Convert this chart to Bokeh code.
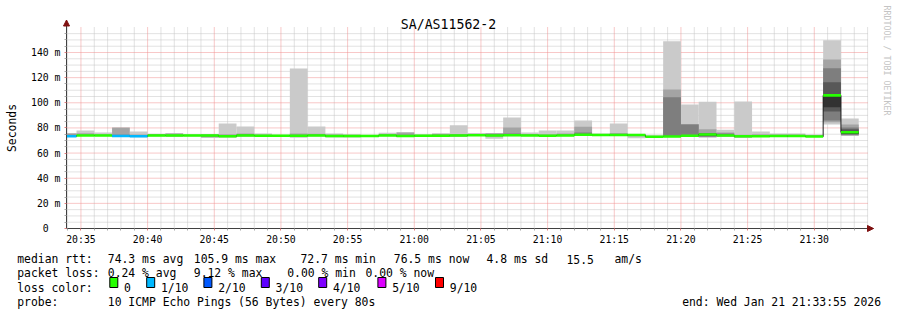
import math
from bokeh.plotting import figure
from bokeh.models import Range1d, FixedTicker, Label, BoxAnnotation, Arrow, NormalHead
from bokeh.embed import file_html
from bokeh.resources import INLINE

# ---------------- data ----------------
TITLE = "SA/AS11562-2"
Y_LABEL = "Seconds"
WATERMARK = "RRDTOOL / TOBI OETIKER"
graph_start = "20:33:55"
graph_end = "21:33:55"

bar_start = ["20:33:20", "20:34:40", "20:36:00", "20:37:20", "20:38:40", "20:40:00",
             "20:41:20", "20:42:40", "20:44:00", "20:45:20", "20:46:40", "20:48:00",
             "20:49:20", "20:50:40", "20:52:00", "20:53:20", "20:54:40", "20:56:00",
             "20:57:20", "20:58:40", "21:00:00", "21:01:20", "21:02:40", "21:04:00",
             "21:05:20", "21:06:40", "21:08:00", "21:09:20", "21:10:40", "21:12:00",
             "21:13:20", "21:14:40", "21:16:00", "21:17:20", "21:18:40", "21:20:00",
             "21:21:20", "21:22:40", "21:24:00", "21:25:20", "21:26:40", "21:28:00",
             "21:29:20", "21:30:40", "21:32:00"]
bar_last_end = "21:33:20"
nan = float("nan")

# sorted ping round-trip times per step (ms), ping01 fastest ... ping10 slowest
ping01 = [72.8, 73.5, 73.4, 72.8, 72.5, 73.2, 72.8, 73.2, 72.0, 72.3, 73.0, 73.0, 73.0, 72.2, 73.2,
          72.3, 72.5, 73.0, 73.3, 72.8, 73.0, 73.0, 72.8, 73.5, 71.4, 73.3, 73.3, 73.0, 73.3, 73.5,
          73.5, 73.5, 71.8, 72.3, 72.5, 73.0, 72.4, 72.8, 72.0, 72.8, 73.0, 73.0, 72.8, 82.7, 73.5]
ping02 = [73.0, 73.7, 73.6, 73.0, 72.8, 73.5, 73.3, 73.5, 72.5, 72.6, 73.3, 73.3, 73.3, 72.8, 73.5,
          72.7, 72.6, 73.2, 73.5, 73.0, 73.2, 73.2, 73.2, 73.7, 73.0, 73.6, 73.5, 73.3, 73.5, 73.8,
          73.7, 73.7, 73.3, 72.5, 72.8, 73.2, 72.6, 73.2, 72.4, 73.0, 73.1, 73.1, 72.9, 84.5, 74.0]
ping03 = [73.2, 73.8, 73.8, 73.2, 73.0, 73.7, 73.6, 73.7, 73.2, 73.0, 73.6, 73.5, 73.5, 73.2, 73.7,
          73.0, 72.7, 73.3, 73.7, 73.2, 73.4, 73.4, 73.5, 73.9, 73.5, 73.8, 73.7, 73.5, 73.7, 74.0,
          73.9, 73.9, 73.7, 72.7, 73.0, 73.4, 73.0, 73.6, 72.8, 73.1, 73.2, 73.2, 73.0, 86.0, 74.5]
ping04 = [73.3, 73.9, 73.9, 73.4, 73.2, 73.8, 73.8, 73.8, 73.6, 73.2, 73.8, 73.6, 73.6, 73.5, 73.8,
          73.3, 72.8, 73.4, 73.8, 73.3, 73.6, 73.6, 73.7, 74.0, 73.7, 74.0, 73.8, 73.6, 73.8, 74.3,
          74.0, 74.0, 74.0, 72.8, 73.2, 73.5, 73.5, 73.8, 73.0, 73.2, 73.3, 73.3, 73.1, 93.0, 75.0]
ping05 = [73.3, 74.0, 74.0, 73.5, 73.3, 74.0, 73.9, 73.9, 73.9, 73.3, 73.9, 73.7, 73.7, 73.7, 73.9,
          73.4, 72.9, 73.5, 73.9, 73.4, 73.7, 73.7, 73.9, 74.1, 73.9, 74.1, 73.9, 73.7, 73.9, 74.5,
          74.2, 74.2, 74.2, 72.9, 73.2, 73.6, 74.2, 74.0, 73.1, 73.3, 73.4, 73.4, 73.2, 96.5, 75.3]
ping06 = [73.4, 74.0, 74.1, 73.6, 73.4, 74.1, 74.0, 74.1, 74.1, 73.4, 74.1, 73.9, 73.9, 73.9, 74.1,
          73.6, 74.0, 73.6, 74.1, 73.6, 73.9, 73.9, 74.1, 74.3, 74.1, 74.3, 74.1, 73.9, 74.1, 74.7,
          74.4, 74.4, 74.4, 73.1, 73.3, 73.8, 75.2, 74.2, 73.3, 73.4, 73.6, 73.6, 73.3, 106.4, 77.0]
ping07 = [73.6, 74.2, 74.2, 73.8, 73.6, 74.3, 74.2, 74.2, 74.3, 73.6, 74.4, 74.0, 74.0, 74.2, 74.3,
          73.8, 74.2, 73.7, 74.3, 73.8, 74.0, 74.1, 74.3, 74.5, 74.4, 74.6, 74.3, 74.1, 74.3, 75.2,
          74.6, 74.6, 74.5, 73.3, 73.5, 74.2, 75.6, 74.6, 73.6, 73.6, 73.8, 73.8, 73.5, 116.4, 79.0]
ping08 = [74.5, 74.6, 74.4, 74.5, 74.0, 74.6, 74.5, 74.4, 74.5, 74.0, 75.0, 74.3, 74.2, 74.6, 74.8,
          74.2, 74.4, 73.8, 74.6, 74.5, 74.2, 74.5, 74.6, 74.8, 74.9, 75.5, 74.6, 74.4, 74.8, 76.4,
          74.9, 75.0, 74.6, 73.5, 104.5, 82.7, 75.8, 75.5, 74.0, 74.0, 74.2, 74.2, 73.8, 127.5, 80.3]
ping09 = [75.8, 75.8, 75.0, 80.3, 74.8, 75.0, 75.5, 74.6, 74.7, 75.0, 75.6, 74.8, 74.3, 75.5, 75.3,
          74.8, 74.6, 73.9, 75.2, 76.3, 74.5, 75.3, 75.2, 75.3, 75.8, 80.3, 75.2, 75.0, 75.5, 81.0,
          75.2, 76.0, 74.7, 73.7, 110.6, 83.2, 79.0, 76.4, 74.6, 75.0, 74.8, 74.8, 74.2, 134.4, 82.7]
ping10 = [nan, 78.0, 76.4, nan, 77.2, 75.4, 75.7, 74.9, 75.0, 83.5, 81.1, 75.6, 74.6, 127.3, 81.1,
          75.6, 74.8, 74.0, 76.1, 76.5, 74.8, 75.6, 82.2, 75.8, 76.0, 88.3, 76.4, 78.0, 78.0, 86.0,
          75.6, 83.5, 74.9, 74.0, 149.0, 98.6, 100.8, 78.5, 101.0, 77.2, 75.6, 75.6, 74.8, 149.8, 87.5]

median_ms = [73.3, 74.0, 74.0, 73.5, 73.3, 74.0, 74.0, 74.0, 74.0, 73.3,
             74.0, 73.8, 73.8, 73.8, 74.0, 73.5, 73.6, 73.5, 74.0, 73.5,
             73.8, 73.8, 74.0, 74.2, 74.0, 74.2, 74.0, 73.8, 74.0, 74.6,
             74.3, 74.3, 74.3, 73.0, 73.2, 73.7, 74.8, 74.0, 73.3, 73.3,
             73.5, 73.5, 73.2, 105.9, 76.5]
lost_of_10 = [1, 0, 0, 1, 1, 0, 0, 0, 0, 0, 0, 0, 0, 0, 0, 0, 0, 0, 0, 0, 0, 0, 0,
              0, 0, 0, 0, 0, 0, 0, 0, 0, 0, 0, 0, 0, 0, 0, 0, 0, 0, 0, 0, 0, 0]

x_tick_labels = ["20:35", "20:40", "20:45", "20:50", "20:55", "21:00",
                 "21:05", "21:10", "21:15", "21:20", "21:25", "21:30"]
y_tick_values = [0, 20, 40, 60, 80, 100, 120, 140]
y_tick_labels = ["0\u00a0\u00a0", "20 m", "40 m", "60 m", "80 m", "100 m", "120 m", "140 m"]
y_grid_top = 155

loss_keys = [0, 1, 2, 3, 4, 5, 9]
loss_key_labels = ["0", "1/10", "2/10", "3/10", "4/10", "5/10", "9/10"]
loss_key_colors = ["#26ff00", "#00b8ff", "#0059ff", "#5e00ff", "#7e00ff", "#dd00ff", "#ff0000"]

legend_rtt = ["median rtt:", "74.3 ms avg", "105.9 ms max", "72.7 ms min",
              "76.5 ms now", "4.8 ms sd", "15.5", "am/s"]
legend_loss = ["packet loss:", "0.24 % avg", "9.12 % max", "0.00 % min", "0.00 % now"]
legend_color_title = "loss color:"
legend_probe = ["probe:", "10 ICMP Echo Pings (56 Bytes) every 80s"]
legend_end = "end: Wed Jan 21 21:33:55 2026"

# ---------------- layout (pixels) ----------------
W, H = 897, 310
AX_X, AX_Y = 66, 228          # canvas position of the axes origin
SEC_PER_PX = 4.5
PX_PER_MS = 1.2571

MONO = "DejaVu Sans Mono"
AXIS_C = "#404040"
ARROW_C = "#7f1010"
MINOR_C = "#c4c4c4"
MAJOR_C = "#f09090"


def to_s(hms):
    h, m, s = (int(v) for v in hms.split(":"))
    return h * 3600 + m * 60 + s - (20 * 3600 + 35 * 60)


g0, g1 = to_s(graph_start), to_s(graph_end)
X0 = g0 - AX_X * SEC_PER_PX
X1 = X0 + W * SEC_PER_PX
Y0 = -(H - AX_Y) / PX_PER_MS
Y1 = AX_Y / PX_PER_MS


def px2x(px):
    return X0 + px * SEC_PER_PX


def py2y(py):
    return (AX_Y - py) / PX_PER_MS


p = figure(width=W, height=H, output_backend="svg", toolbar_location=None,
           x_range=Range1d(X0, X1), y_range=Range1d(Y0, Y1),
           min_border=0, min_border_left=0, min_border_right=0,
           min_border_top=0, min_border_bottom=0,
           background_fill_color="white", border_fill_color="white",
           outline_line_color=None)
p.xgrid.visible = False
p.ygrid.visible = False

# ---- grid (drawn under the data) ----
x_major = [to_s(t + ":00") for t in x_tick_labels]
x_minor = [m for m in range(-60, 3541, 60) if m not in x_major]
y_minor = [v for v in range(5, y_grid_top + 1, 5) if v not in y_tick_values]
grid_top = py2y(26)
grid_right = px2x(868)

p.segment(x0=x_minor, x1=x_minor, y0=[0] * len(x_minor), y1=[grid_top] * len(x_minor),
          line_color=MINOR_C, line_dash="1 1", line_width=1)
p.segment(x0=[g0] * len(y_minor), x1=[grid_right] * len(y_minor), y0=y_minor, y1=y_minor,
          line_color=MINOR_C, line_dash="1 1", line_width=1)
p.segment(x0=x_major, x1=x_major, y0=[0] * len(x_major), y1=[grid_top] * len(x_major),
          line_color=MAJOR_C, line_dash="1 1", line_width=1)
yM = y_tick_values[1:]
p.segment(x0=[g0] * len(yM), x1=[grid_right] * len(yM), y0=yM, y1=yM,
          line_color=MAJOR_C, line_dash="1 1", line_width=1)

# ---- smoke ----
starts = [to_s(t) for t in bar_start]
ends = starts[1:] + [to_s(bar_last_end)]
lefts = [max(s, g0) for s in starts]
pings = [ping01, ping02, ping03, ping04, ping05, ping06, ping07, ping08, ping09, ping10]
half = 5
for k in range(half):
    lo, hi = pings[k], pings[9 - k]
    g = int(190 / half * (half - k - 1)) + 50
    col = "#%02x%02x%02x" % (g, g, g)
    L, R, B, T = [], [], [], []
    for i in range(len(starts)):
        if math.isnan(lo[i]) or math.isnan(hi[i]):
            continue
        L.append(lefts[i]); R.append(ends[i]); B.append(lo[i]); T.append(hi[i])
    p.quad(left=L, right=R, bottom=B, top=T, fill_color=col, line_color=None)

# ---- median line (thin dark step) ----
p.step(lefts + [ends[-1]], median_ms + [median_ms[-1]], mode="after",
       line_color="#202020", line_width=1)

# ---- loss-coloured median band ----
sw = 1.0


def loss_col(n):
    for key, c in zip(loss_keys, loss_key_colors):
        if n <= key:
            return c
    return loss_key_colors[-1]


p.quad(left=lefts, right=ends,
       bottom=[m - sw for m in median_ms], top=[m + sw for m in median_ms],
       fill_color=[loss_col(n) for n in lost_of_10], line_color=None)

# ---- axes (fixed at the graph origin) ----
xt = FixedTicker(ticks=x_major, minor_ticks=x_minor)
yt = FixedTicker(ticks=y_tick_values, minor_ticks=y_minor)
x_tip = px2x(873)
y_tip = py2y(19.5)

xa = p.xaxis[0]
xa.ticker = xt
xa.fixed_location = 0
xa.bounds = (g0, x_tip)
xa.major_label_overrides = {x_major[i]: x_tick_labels[i] for i in range(len(x_major))}
ya = p.yaxis[0]
ya.ticker = yt
ya.fixed_location = g0
ya.bounds = (0, y_tip)
ya.major_label_overrides = {y_tick_values[i]: y_tick_labels[i] for i in range(len(y_tick_values))}

for ax in (xa, ya):
    ax.axis_line_color = AXIS_C
    ax.axis_line_width = 1
    ax.major_tick_in = 0
    ax.minor_tick_in = 0
    ax.major_tick_out = 2
    ax.minor_tick_out = 2
    ax.major_tick_line_color = "#e08080"
    ax.minor_tick_line_color = "#a8a8a8"
    ax.major_label_text_font = MONO
    ax.major_label_text_font_size = "9.8px"
    ax.major_label_text_color = "black"
xa.major_label_standoff = 3
ya.major_label_standoff = 4

# ---- axis arrows ----
p.add_layout(Arrow(x_start=g0, y_start=py2y(26), x_end=g0, y_end=y_tip, line_color=None,
                   end=NormalHead(size=6, fill_color=ARROW_C, line_color=ARROW_C)))
p.add_layout(Arrow(x_start=px2x(866), y_start=0, x_end=x_tip, y_end=0, line_color=None,
                   end=NormalHead(size=6, fill_color=ARROW_C, line_color=ARROW_C)))


# ---- texts ----
def lab(text, x, y, size="11.4px", align="left", baseline="alphabetic", angle=0.0, color="black"):
    p.add_layout(Label(x=x, y=H - y, x_units="screen", y_units="screen", text=text,
                       text_font=MONO, text_font_size=size, text_align=align,
                       text_baseline=baseline, angle=angle, text_color=color))


lab(TITLE, 448, 24, size="13.2px", align="center")
lab(Y_LABEL, 11.5, 127.5, size="11.4px", align="center", baseline="middle", angle=math.pi / 2)
lab(WATERMARK, 886.5, 5, size="8.3px", align="left", baseline="middle",
    angle=-math.pi / 2, color="#c4c4c4")

rtt_x = [16.7, 107.3, 193.3, 300.0, 393.3, 486.0, 566.0, 614.0]
for t, x in zip(legend_rtt, rtt_x):
    lab(t, x, 258.5)
loss_x = [16.7, 107.3, 193.3, 286.7, 365.0]
for t, x in zip(legend_loss, loss_x):
    lab(t, x, 272.8)
lab(legend_color_title, 16.7, 287.0)
box_x = [109.3, 146.2, 203.4, 260.8, 318.2, 377.4, 435.0]
for lbl, c, bx in zip(loss_key_labels, loss_key_colors, box_x):
    p.add_layout(BoxAnnotation(left=bx, right=bx + 8, bottom=H - 287.0, top=H - 277.0,
                               left_units="screen", right_units="screen",
                               bottom_units="screen", top_units="screen",
                               fill_color=c, fill_alpha=1.0, line_color="black", line_width=1,
                               line_alpha=1.0, level="overlay"))
    lab(lbl, bx + 14.3, 287.0)
lab(legend_probe[0], 16.7, 301.2)
lab(legend_probe[1], 107.3, 301.2)
lab(legend_end, 880.5, 301.2, align="right")

open("out.html", "w").write(file_html(p, INLINE))
